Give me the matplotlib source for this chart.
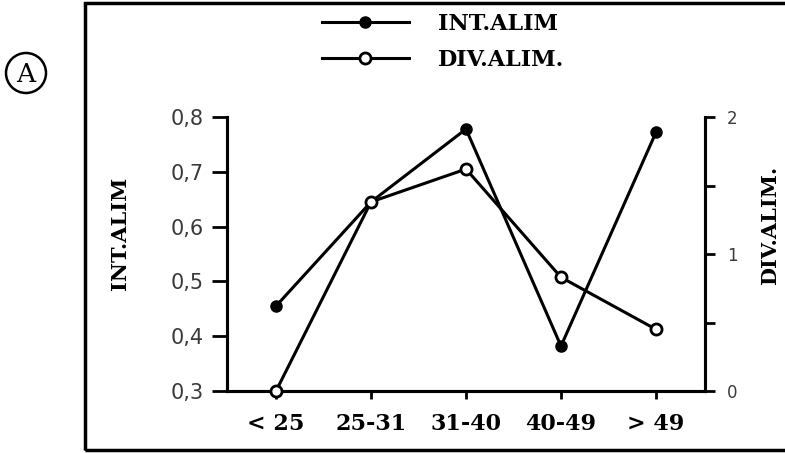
import matplotlib
matplotlib.use("Agg")
from matplotlib import pyplot as plt
from matplotlib.patches import Rectangle, Ellipse

# age classes and the two series
age_classes = ["< 25", "25-31", "31-40", "40-49", "> 49"]
int_alim = [0.455, 0.645, 0.778, 0.382, 0.772]
div_alim = [0.0, 1.38, 1.62, 0.83, 0.45]

left_ticks = [0.3, 0.4, 0.5, 0.6, 0.7, 0.8]
left_labels = ["0,3", "0,4", "0,5", "0,6", "0,7", "0,8"]
right_ticks = [0, 1, 2]
right_minor = [0.5, 1.5]

W, H = 785, 453
fig = plt.figure(figsize=(W / 100, H / 100), dpi=100)
ax = fig.add_axes([227 / W, 1 - 391 / H, (705 - 227) / W, (391 - 117) / H])
ax2 = ax.twinx()

serif = {"family": "DejaVu Serif", "weight": "bold"}
tick_color = "#3a3a3a"

x = list(range(len(age_classes)))
l1, = ax.plot(x, int_alim, color="black", lw=2.2, marker="o", ms=8,
              mfc="black", mec="black", clip_on=False, zorder=3)
l2, = ax2.plot(x, div_alim, color="black", lw=2.2, marker="o", ms=8,
               mfc="white", mec="black", mew=2, clip_on=False, zorder=3)

ax.set_xlim(-0.516, 4.516)
ax.set_ylim(0.3, 0.8)
ax2.set_ylim(0, 2)

# spines: left, bottom, right only
for a in (ax, ax2):
    a.spines["top"].set_visible(False)
    for s in ("left", "bottom", "right"):
        a.spines[s].set_linewidth(2.2)
    a.patch.set_visible(False)

ax.set_xticks(x)
ax.set_xticklabels(age_classes, fontdict=serif, fontsize=16)
ax.tick_params(axis="x", direction="out", length=6, width=2, pad=10)

ax.set_yticks(left_ticks)
ax.set_yticklabels(left_labels, fontsize=15, color=tick_color, family="DejaVu Sans")
ax.tick_params(axis="y", direction="out", length=11, width=2, pad=6)

ax2.set_yticks(right_ticks)
ax2.set_yticklabels([str(t) for t in right_ticks], fontsize=12, color=tick_color,
                    family="DejaVu Sans")
ax2.set_yticks(right_minor, minor=True)
ax2.tick_params(axis="y", which="both", direction="out", length=7, width=2, pad=9)

# axis titles, placed as in the original
fig.text(120 / W, 1 - 233 / H, "INT.ALIM", rotation=90, ha="center", va="center",
         fontdict=serif, fontsize=15)
fig.text(770 / W, 1 - 225 / H, "DIV.ALIM.", rotation=90, ha="center", va="center",
         fontdict=serif, fontsize=15)

# legend at the top
fig.legend([l1, l2], ["INT.ALIM", "DIV.ALIM."], loc="center left",
           bbox_to_anchor=(322 / W, 1 - 42 / H), frameon=False,
           prop={"family": "DejaVu Serif", "weight": "bold", "size": 16},
           handlelength=3.9, handletextpad=1.3, labelspacing=0.65,
           borderpad=0, borderaxespad=0, numpoints=1)

# outer frame and panel letter
fig.patches.append(Rectangle((85 / W, 1 - 450 / H), 720 / W, 447 / H,
                             transform=fig.transFigure, fill=False,
                             lw=2.5, ec="black", clip_on=False))
fig.patches.append(Ellipse((26 / W, 1 - 73 / H), 40 / W, 40 / H,
                           transform=fig.transFigure, fill=False, lw=1.8, ec="black"))
fig.text(26 / W, 1 - 74 / H, "A", ha="center", va="center",
         family="DejaVu Serif", fontsize=19)

fig.savefig("out.png", dpi=100)
